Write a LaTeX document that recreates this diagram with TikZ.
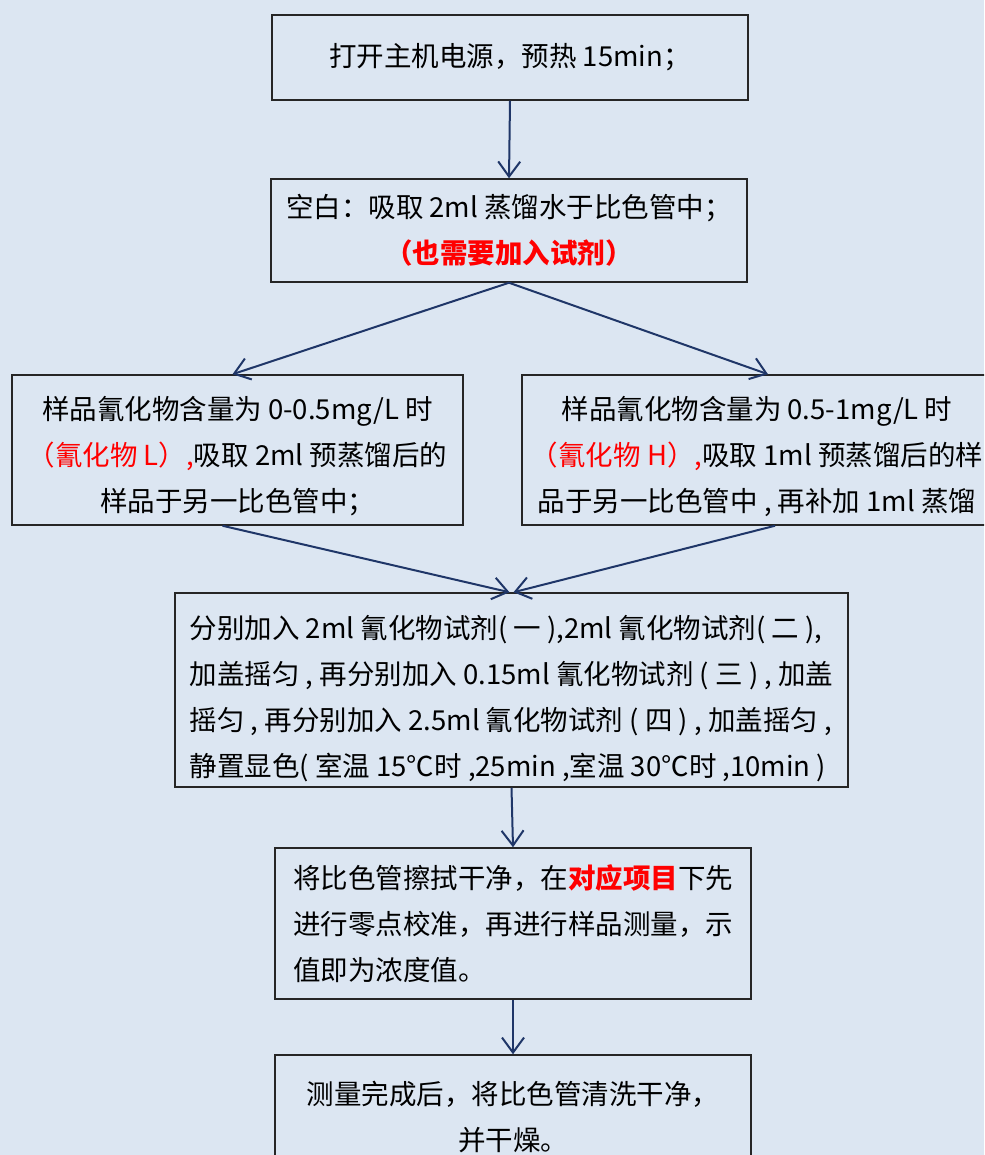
\documentclass[tikz,border=0pt]{standalone}
\usepackage{fontspec}
\setmainfont{Noto Sans CJK SC}
\usetikzlibrary{arrows.meta}
\definecolor{bg}{HTML}{DCE6F2}
\definecolor{arrowc}{HTML}{1F3668}
\definecolor{redt}{HTML}{FF0000}
\tikzset{
  box/.style={draw=black!85, line width=1.5pt, fill=bg, rectangle, inner sep=0pt,
    font=\fontsize{27.5}{46}\selectfont, text=black},
  conn/.style={draw=arrowc, line width=2pt, -{Straight Barb[length=15pt,width=22pt,line width=2pt]}},
}
\begin{document}
\begin{tikzpicture}[x=1pt,y=-1pt]
\fill[bg] (0,0) rectangle (984,1155);
\useasboundingbox (0,0) rectangle (984,1155);
\clip (0,0) rectangle (984,1155);
\node[box, minimum width=476pt, minimum height=85pt, align=center] (b1) at (510,57.5)
  {打开主机电源，预热 15min；};
\node[box, minimum width=476pt, minimum height=103pt, align=center] (b2) at (509,230.5)
  {空白：吸取 2ml 蒸馏水于比色管中；\\ \textcolor{redt}{\bfseries（也需要加入试剂）}};
\node[box, minimum width=451pt, minimum height=150pt, align=center] (b3) at (237.5,450)
  {\rule{0pt}{36pt}样品氰化物含量为 0-0.5mg/L 时\\ \textcolor{redt}{（氰化物 L）,}吸取 2ml 预蒸馏后的\\ 样品于另一比色管中；};
\node[box, minimum width=470pt, minimum height=150pt, align=center] (b4) at (757,450)
  {\rule{0pt}{36pt}样品氰化物含量为 0.5-1mg/L 时\\ \textcolor{redt}{（氰化物 H）,}吸取 1ml 预蒸馏后的样\\ 品于另一比色管中 , 再补加 1ml 蒸馏};
\node[box, minimum width=673pt, minimum height=194pt, align=left] (b5) at (511.5,690)
  {\rule{0pt}{40pt}分别加入 2ml 氰化物试剂( 一 ),2ml 氰化物试剂( 二 ),\\ 加盖摇匀 , 再分别加入 0.15ml 氰化物试剂 ( 三 ) , 加盖\\ 摇匀 , 再分别加入 2.5ml 氰化物试剂 ( 四 ) , 加盖摇匀 ,\\ 静置显色( 室温 15℃时 ,25min ,室温 30℃时 ,10min )};
\node[box, minimum width=476pt, minimum height=151pt, align=left] (b6) at (513,923.5)
  {将比色管擦拭干净，在\textcolor{redt}{\bfseries 对应项目}下先\\ 进行零点校准，再进行样品测量，示\\ 值即为浓度值。};
\node[box, minimum width=476pt, minimum height=125pt, align=center] (b7) at (513,1117.5)
  {测量完成后，将比色管清洗干净，\\ 并干燥。};
\draw[conn] (b1.south) -- (b2.north);
\draw[conn] (b2.south) -- ([xshift=-5pt]b3.north);
\draw[conn] (b2.south) -- ([xshift=11pt]b4.north);
\draw[conn] ([xshift=-15pt]b3.south) -- ([xshift=-2pt]b5.north);
\draw[conn] ([xshift=18pt]b4.south) -- ([xshift=2pt]b5.north);
\draw[conn] (b5.south) -- (b6.north);
\draw[conn] (b6.south) -- (b7.north);
\end{tikzpicture}
\end{document}
